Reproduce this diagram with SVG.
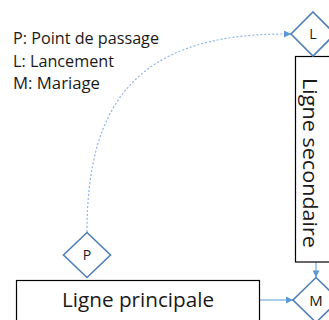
<svg xmlns="http://www.w3.org/2000/svg" width="329" height="320" viewBox="0 0 329 320">
<style>
.box{fill:#ffffff;stroke:#000000;stroke-width:1.2}
.dia{fill:#ffffff;stroke:#4F7FBA;stroke-width:1.6}
.lbl{font-family:"Open Sans","Liberation Sans",sans-serif;fill:#1a1a1a}
.conn{fill:none;stroke:#5B9BD5;stroke-width:1}
.dash{fill:none;stroke:#8DB4E2;stroke-width:1.2;stroke-dasharray:2 2}
</style>
<defs>
<marker id="ah" viewBox="0 0 10 10" refX="10" refY="5" markerWidth="9" markerHeight="7" markerUnits="userSpaceOnUse" orient="auto">
<path d="M0,0 L10,5 L0,10 Z" fill="#5B9BD5"/>
</marker>
</defs>
<g id="legend" class="lbl" font-size="15.5">
<text x="13" y="44" textLength="146" lengthAdjust="spacingAndGlyphs">P: Point de passage</text>
<text x="13" y="67" textLength="101" lengthAdjust="spacingAndGlyphs">L: Lancement</text>
<text x="13" y="89" textLength="87" lengthAdjust="spacingAndGlyphs">M: Mariage</text>
</g>
<g id="connectors">
<path class="dash" d="M87,232 C87,105 135,34 285,34"/>
<path class="conn" d="M285,34 L291,34" marker-end="url(#ah)"/>
<path class="conn" d="M316,262 L316,277.5" marker-end="url(#ah)"/>
<path class="conn" d="M259,300 L293,300" marker-end="url(#ah)"/>
</g>
<g id="node-principale">
<rect class="box" x="16.5" y="280.5" width="243" height="45"/>
<text class="lbl" x="138" y="307" font-size="20" text-anchor="middle" textLength="152" lengthAdjust="spacingAndGlyphs">Ligne principale</text>
</g>
<g id="node-secondaire">
<rect class="box" x="295.5" y="56.5" width="42" height="205.5"/>
<text class="lbl" transform="translate(303,163) rotate(90)" x="0" y="0" font-size="20" text-anchor="middle" textLength="170" lengthAdjust="spacingAndGlyphs">Ligne secondaire</text>
</g>
<g id="node-L">
<polygon class="dia" points="313,12 335,34 313,56 291,34"/>
<text class="lbl" x="313" y="39" font-size="14" text-anchor="middle">L</text>
</g>
<g id="node-P">
<polygon class="dia" points="87,232.5 110.5,255 87,277.5 63.5,255"/>
<text class="lbl" x="87" y="260" font-size="14" text-anchor="middle">P</text>
</g>
<g id="node-M">
<polygon class="dia" points="316,277.5 339,300 316,322.5 293,300"/>
<text class="lbl" x="316" y="306" font-size="15" text-anchor="middle">M</text>
</g>
</svg>
